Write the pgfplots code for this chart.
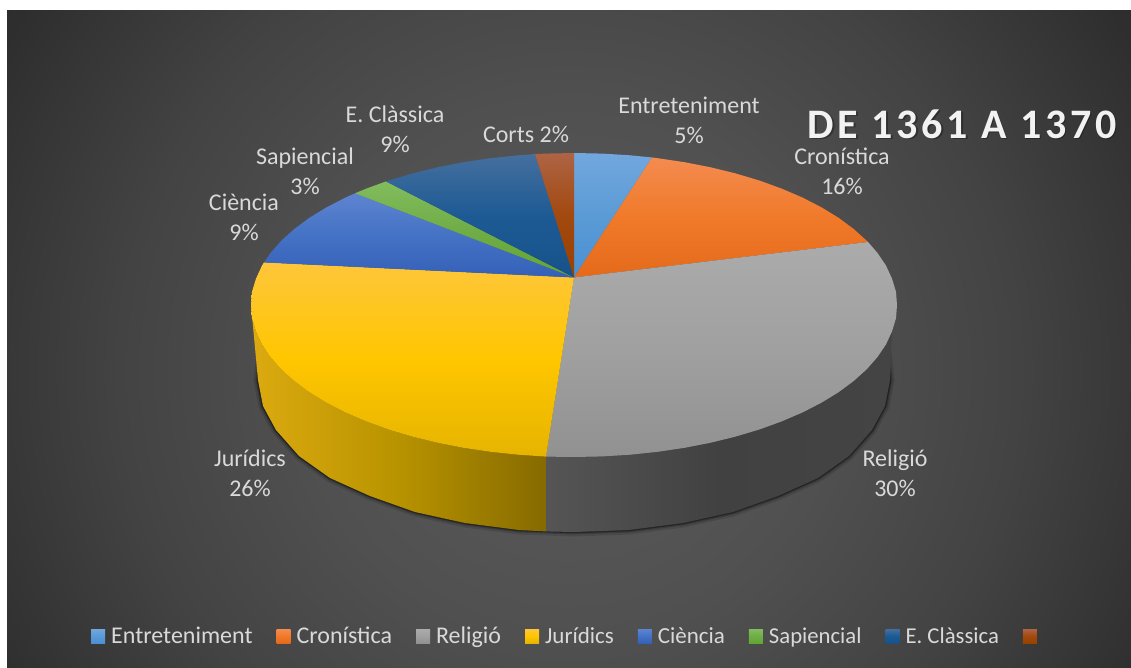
\documentclass[border=0pt]{standalone}
\usepackage{fontspec}
\setmainfont{Carlito}
\newfontfamily\titlefont[LetterSpace=9]{Carlito}
\usepackage{pgfplots}
\pgfplotsset{compat=1.18}

\definecolor{bgA}{HTML}{5C5C5C}
\definecolor{bgB}{HTML}{505050}
\definecolor{bgC}{HTML}{434343}
\definecolor{bgD}{HTML}{2E2E2E}
\definecolor{bgE}{HTML}{282828}
\pgfdeclareradialshading{bgshade}{\pgfpoint{0bp}{0bp}}{%
  color(0bp)=(bgA);
  color(12bp)=(bgB);
  color(20bp)=(bgC);
  color(29bp)=(bgD);
  color(35.5bp)=(bgE);
  color(80bp)=(bgE)}

\definecolor{labeltext}{HTML}{D9D9D9}
\definecolor{titletext}{HTML}{F2F2F2}
\definecolor{jurA}{HTML}{DCAA10}
\definecolor{jurB}{HTML}{B89300}
\definecolor{jurC}{HTML}{866A00}
\definecolor{relA}{HTML}{555555}
\definecolor{relB}{HTML}{414141}
\definecolor{relC}{HTML}{444444}
\definecolor{entTop}{HTML}{72A7DE}
\definecolor{entMid}{HTML}{5B9BD5}
\definecolor{entBot}{HTML}{4A90D4}
\definecolor{croTop}{HTML}{F48B4F}
\definecolor{croMid}{HTML}{F07A2A}
\definecolor{croBot}{HTML}{E46A1A}
\definecolor{relTop}{HTML}{ABABAB}
\definecolor{relMid}{HTML}{A0A0A0}
\definecolor{relBot}{HTML}{919191}
\definecolor{jurTop}{HTML}{FEC63A}
\definecolor{jurMid}{HTML}{FFC600}
\definecolor{jurBot}{HTML}{E6B400}
\definecolor{cieTop}{HTML}{5E84D0}
\definecolor{cieMid}{HTML}{4472C4}
\definecolor{cieBot}{HTML}{3560B8}
\definecolor{sapTop}{HTML}{82BC5E}
\definecolor{sapMid}{HTML}{70AD47}
\definecolor{sapBot}{HTML}{62A632}
\definecolor{claTop}{HTML}{456F9E}
\definecolor{claMid}{HTML}{1D5A94}
\definecolor{claBot}{HTML}{17528A}
\definecolor{corTop}{HTML}{AE6444}
\definecolor{corMid}{HTML}{A2490F}
\definecolor{corBot}{HTML}{984200}

% lower rim of the pie, used for the soft shadow
\pgfplotstableread{
x y
264 325
258 380
263 406
276 430
299 456
330 478
370 496
415 512
465 523
519 530
574 532
629 530
683 523
733 512
778 496
818 478
849 456
872 430
885 406
890 380
884 325
}\rimtable

\begin{document}
\begin{tikzpicture}
\begin{axis}[
  scale only axis,width=1131pt,height=668pt,
  xmin=0,xmax=1131,ymin=0,ymax=668,y dir=reverse,
  hide axis,clip=false,
  legend columns=-1,
  legend style={at={(axis cs:91,636)},anchor=west,draw=none,fill=none,
    text=labeltext,font=\fontsize{24}{28}\selectfont,inner sep=0pt,
    /tikz/every odd column/.append style={column sep=4pt},
    /tikz/every even column/.append style={column sep=22pt}},
  legend image code/.code={\path[#1,draw=none] (0pt,-7pt) rectangle (14pt,7pt);},
]
% page and panel
\addplot[fill=white,draw=none,forget plot] coordinates {(0,0)(1131,0)(1131,668)(0,668)} --cycle;
\pgfplotsextra{\begin{scope}
  \clip (axis cs:7,11) rectangle (axis cs:1131,668);
  \path[shading=bgshade] (axis cs:7,-192) rectangle (axis cs:1131,932);
\end{scope}}

% shadow
\addplot[black,opacity=.12,line width=9pt,forget plot] table {\rimtable};
\addplot[black,opacity=.2,line width=5pt,forget plot] table {\rimtable};
\addplot[black,opacity=.35,line width=2.5pt,forget plot] table {\rimtable};

% side walls
\addplot[left color=jurA,right color=jurC,middle color=jurB,draw=none,forget plot] coordinates {
  (251,305)(252,318.2)(256,331.4)(262,344.4)(270.5,357)(281.3,369.3)(294.3,381)(309.4,392.2)
  (326.6,402.7)(345.6,412.5)(366.4,421.4)(388.7,429.5)(412.5,436.6)(437.4,442.7)(463.5,447.8)
  (490.4,451.8)(518,454.7)(546,456.6)(546,531.4)(519,530)(465,523)(415,512)(370,496)(330,478)
  (299,456)(276,430)(263,406)(258,380)} --cycle;
\addplot[left color=relA,right color=relC,middle color=relB,draw=none,forget plot] coordinates {
  (546,456.6)(574,457)(602.2,456.4)(630,454.7)(657.6,451.8)(684.5,447.8)(710.6,442.7)(735.5,436.6)
  (759.3,429.5)(781.6,421.4)(802.4,412.5)(821.4,402.7)(838.6,392.2)(853.7,381)(866.7,369.3)
  (877.5,357)(886,344.4)(892,331.4)(890,380)(885,406)(872,430)(849,456)
  (818,478)(778,496)(733,512)(683,523)(629,530)(574,532)(546,531.4)} --cycle;

% top slices, clockwise from twelve o'clock
\addplot[top color=entTop,bottom color=entBot,middle color=entMid,draw=none] coordinates {
  (574,277.5)(574,153)(602.2,153.6)(630,155.3)(652,157.5)} --cycle;
\addlegendentry{Entreteniment}
\addplot[top color=croTop,bottom color=croBot,middle color=croMid,draw=none] coordinates {
  (574,277.5)(652,157.5)(657.6,158.2)(684.5,162.2)(710.6,167.3)(735.5,173.4)(759.3,180.5)(781.6,188.6)
  (802.4,197.5)(821.4,207.3)(838.6,217.8)(853.7,229)(866.7,240.7)(868,242)} --cycle;
\addlegendentry{Cronística}
\addplot[top color=relTop,bottom color=relBot,middle color=relMid,draw=none] coordinates {
  (574,277.5)(868,242)(877.5,253)(886,265.6)(892,278.6)(896,291.8)(897,305)(896,318.2)(892,331.4)
  (886,344.4)(877.5,357)(866.7,369.3)(853.7,381)(838.6,392.2)(821.4,402.7)(802.4,412.5)(781.6,421.4)
  (759.3,429.5)(735.5,436.6)(710.6,442.7)(684.5,447.8)(657.6,451.8)(630,454.7)(602.2,456.4)(574,457)(546,456.6)} --cycle;
\addlegendentry{Religió}
\addplot[top color=jurTop,bottom color=jurBot,middle color=jurMid,draw=none] coordinates {
  (574,277.5)(546,456.6)(518,454.7)(490.4,451.8)(463.5,447.8)(437.4,442.7)(412.5,436.6)(388.7,429.5)
  (366.4,421.4)(345.6,412.5)(326.6,402.7)(309.4,392.2)(294.3,381)(281.3,369.3)(270.5,357)(262,344.4)
  (256,331.4)(252,318.2)(251,305)(252,291.8)(256,278.6)(262,265.6)(264,262.4)} --cycle;
\addlegendentry{\fontsize{23}{28}\selectfont Jurídics}
\addplot[top color=cieTop,bottom color=cieBot,middle color=cieMid,draw=none] coordinates {
  (574,277.5)(264,262.4)(270.5,253)(281.3,240.7)(294.3,229)(309.4,217.8)(326.6,207.3)(345.6,197.5)(355,193.3)} --cycle;
\addlegendentry{\fontsize{23}{28}\selectfont Ciència}
\addplot[top color=sapTop,bottom color=sapBot,middle color=sapMid,draw=none] coordinates {
  (574,277.5)(355,193.3)(366.4,188.6)(386,181.4)} --cycle;
\addlegendentry{\fontsize{22.7}{28}\selectfont Sapiencial}
\addplot[top color=claTop,bottom color=claBot,middle color=claMid,draw=none] coordinates {
  (574,277.5)(386,181.4)(388.7,180.5)(412.5,173.4)(437.4,167.3)(463.5,162.2)(490.4,158.2)(518,155.3)(535,154.1)} --cycle;
\addlegendentry{\fontsize{22.7}{28}\selectfont E. Clàssica}
\addplot[top color=corTop,bottom color=corBot,middle color=corMid,draw=none] coordinates {
  (574,277.5)(535,154.1)(545.8,153.6)(574,153)} --cycle;
\addlegendentry{}

% data labels
\tikzset{lab/.style={text=labeltext,align=center,inner sep=0pt,font=\fontsize{24}{30}\selectfont}}
\node[lab] at (axis cs:689,120) {Entreteniment\\5\%};
\node[lab] at (axis cs:842,171) {Cronística\\16\%};
\node[lab] at (axis cs:895,473) {Religió\\30\%};
\node[lab] at (axis cs:250,473) {Jurídics\\26\%};
\node[lab] at (axis cs:244,217) {Ciència\\9\%};
\node[lab] at (axis cs:305,171) {Sapiencial\\3\%};
\node[lab] at (axis cs:395,129) {E. Clàssica\\9\%};
\node[lab] at (axis cs:526,134) {Corts 2\%};

% title
\node[text=black,opacity=.3,inner sep=0pt,font=\titlefont\bfseries\fontsize{42}{46}\selectfont] at (axis cs:963.5,125.5) {DE 1361 A 1370};
\node[text=titletext,inner sep=0pt,font=\titlefont\bfseries\fontsize{42}{46}\selectfont] at (axis cs:962,124) {DE 1361 A 1370};
\end{axis}
\end{tikzpicture}
\end{document}
